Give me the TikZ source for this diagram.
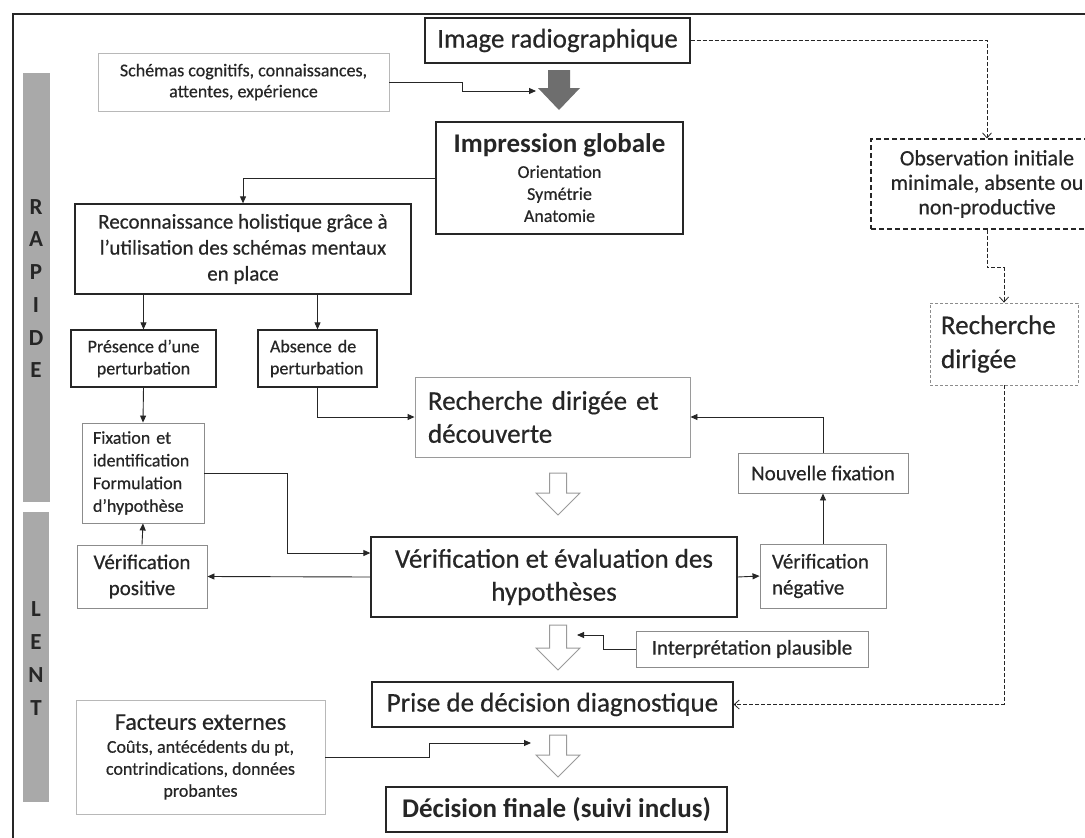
\documentclass[tikz,border=0pt]{standalone}
\usepackage{fontspec}
\setmainfont{Carlito}[UprightFeatures={FakeBold=0.5}]
\usetikzlibrary{arrows.meta,calc}
\definecolor{ink}{HTML}{262626}
\definecolor{lgray}{HTML}{B8B8B8}
\definecolor{mgray}{HTML}{8C8C8C}
\definecolor{bargray}{HTML}{A9A9A9}
\definecolor{darr}{HTML}{6E6E6E}
\definecolor{oagray}{HTML}{9A9A9A}
\tikzset{
  bx/.style={draw=ink, line width=1.3pt, inner sep=0pt, align=center, text=ink},
  gbx/.style={draw=#1, line width=0.9pt, inner sep=0pt, align=center, text=ink},
  conn/.style={draw=ink, line width=0.9pt, -{Triangle[length=7pt,width=6pt]}},
  dconn/.style={draw=ink, line width=0.8pt, dash pattern=on 4pt off 2pt, -{Straight Barb[length=5pt,width=9pt]}},
  openarr/.style={draw=oagray, fill=white, line width=1pt, line join=miter},
  letters/.style={align=center, text=ink, inner sep=0pt, font=\fontsize{23}{32.7}\selectfont\bfseries},
}
\begin{document}
\begin{tikzpicture}[x=1pt,y=-1pt]
\useasboundingbox (0,0) rectangle (1085,838);
\clip (0,0) rectangle (1085,838);
\fill[white] (0,0) rectangle (1085,838);
% frame
\draw[ink, line width=1.2pt] (13,838) -- (13,14) -- (1085,14);
% side bars
\fill[bargray] (23,73) rectangle (50,502);
\fill[bargray] (23,512) rectangle (49,802);
\node[letters] (rapide) at (36,288.5) {R\\A\\P\\I\\D\\E};
\node[letters] (lent) at (36,658.5) {L\\E\\N\\T};

% nodes
\node[bx, minimum width=265pt, minimum height=45pt, font=\fontsize{27}{32}\selectfont] (img) at (557.5,40.5) {Image radiographique};
\node[gbx=lgray, minimum width=291pt, minimum height=58pt, font=\fontsize{18}{21}\selectfont] (schemas) at (243.5,82) {Schémas cognitifs, connaissances,\\attentes, expérience};
\node[bx, minimum width=247pt, minimum height=112pt, font=\fontsize{18}{22}\selectfont] (impr) at (559.5,178) {{\fontsize{27}{27}\selectfont\bfseries Impression globale}\\[3pt]Orientation\\Symétrie\\Anatomie};
\node[bx, minimum width=336pt, minimum height=90pt, font=\fontsize{21}{26}\selectfont] (recon) at (243,249) {Reconnaissance holistique grâce à\\l’utilisation des schémas mentaux\\en place};
\node[bx, minimum width=145pt, minimum height=57pt, font=\fontsize{18}{22}\selectfont] (pres) at (143.5,358.5) {Présence d’une\\perturbation};
\node[bx, minimum width=119pt, minimum height=57pt, inner xsep=12pt, text width=95pt, align=left, font=\fontsize{18}{22}\selectfont] (abs) at (317.5,358.5) {Absence de\\perturbation};
\node[gbx=mgray, minimum width=122pt, minimum height=100pt, inner xsep=11pt, text width=100pt, align=left, font=\fontsize{18}{22.7}\selectfont] (fix) at (143,473) {Fixation et\\identification\\Formulation\\d’hypothèse};
\node[gbx=mgray, minimum width=130pt, minimum height=63pt, font=\fontsize{21}{26}\selectfont] (vpos) at (142,576.5) {Vérification\\positive};
\node[gbx=oagray, minimum width=275pt, minimum height=80pt, inner xsep=13pt, text width=249pt, align=left, font=\fontsize{27}{33}\selectfont] (rech) at (552.5,417) {Recherche dirigée et\\découverte};
\node[bx, minimum width=366pt, minimum height=80pt, font=\fontsize{27}{33}\selectfont] (veval) at (554,577) {Vérification et évaluation des\\hypothèses};
\node[gbx=mgray, minimum width=170pt, minimum height=40pt, font=\fontsize{21}{24}\selectfont] (nouv) at (823,473) {Nouvelle fixation};
\node[gbx=mgray, minimum width=126pt, minimum height=64pt, inner xsep=12pt, text width=102pt, align=left, font=\fontsize{21}{26}\selectfont] (vneg) at (823,576) {Vérification\\négative};
\node[gbx=mgray, minimum width=232pt, minimum height=36pt, font=\fontsize{21}{24}\selectfont] (interp) at (752,649) {Interprétation plausible};
\node[bx, minimum width=361pt, minimum height=45pt, font=\fontsize{27}{32}\selectfont] (prise) at (552.5,704.5) {Prise de décision diagnostique};
\node[gbx=lgray, minimum width=249pt, minimum height=114pt, font=\fontsize{18}{22}\selectfont] (fact) at (200.5,757) {{\fontsize{24}{24}\selectfont Facteurs externes}\\[1pt]Coûts, antécédents du pt,\\contrindications, données\\probantes};
\node[bx, minimum width=341pt, minimum height=45pt, font=\fontsize{27}{32}\selectfont\bfseries] (final) at (556.5,809.5) {Décision finale (suivi inclus)};
\node[draw=ink, line width=1.1pt, dash pattern=on 5pt off 3pt, inner sep=0pt, align=center, text=ink, minimum width=232pt, minimum height=90pt, font=\fontsize{22}{24.5}\selectfont] (obs) at (987,184) {Observation initiale\\minimale, absente ou\\non-productive};
\node[draw=mgray, line width=0.8pt, dash pattern=on 3pt off 2pt, inner sep=0pt, inner xsep=11pt, text width=126pt, align=left, text=ink, minimum width=148pt, minimum height=82pt, font=\fontsize{27}{34}\selectfont] (rdir) at (1004,344) {Recherche\\dirigée};

% dark block arrow
\fill[darr] (548,70) -- (570,70) -- (570,88) -- (580,88) -- (559,110) -- (538,88) -- (548,88) -- cycle;
\coordinate (da) at (536,91);
% open block arrows
\draw[openarr] (549.5,473) -- (566.5,473) -- (566.5,493) -- (580,493) -- (558,515) -- (536,493) -- (549.5,493) -- cycle;
\draw[openarr] (549.5,625) -- (566.5,625) -- (566.5,648) -- (580,648) -- (558,670) -- (536,648) -- (549.5,648) -- cycle;
\draw[openarr] (549.5,735) -- (566.5,735) -- (566.5,755) -- (580,755) -- (558,777) -- (536,755) -- (549.5,755) -- cycle;
\coordinate (oa2) at (577,635);
\coordinate (oa3) at (531,743);

% connectors
\draw[conn] (schemas.east) -- ++(73,0) |- (da);
\draw[conn] (impr.west) -| (recon.north);
\draw[conn] (recon.south -| pres.north) -- (pres.north);
\draw[conn] (recon.south -| abs.north) -- (abs.north);
\draw[conn] (pres.south) -- (fix.north);
\draw[conn] (abs.south) |- (rech.west);
\draw[conn] (fix.east) -- ++(83,0) |- ([yshift=24pt]veval.west);
\draw[conn] (veval.west) -- (vpos.east);
\draw[conn] (vpos.north) -- (fix.south);
\draw[conn] (veval.east) -- (vneg.west);
\draw[conn] (vneg.north) -- (nouv.south);
\draw[conn] (nouv.north) |- (rech.east);
\draw[conn] (interp.west) -- ++(-32,0) |- (oa2);
\draw[conn] (fact.east) -- ++(104,0) |- (oa3);
% dashed connectors
\draw[dconn] (img.east) -| (obs.north);
\draw[dconn] (obs.south) -- ++(0,38) -| (rdir.north);
\draw[dconn] (rdir.south) |- (prise.east);
\end{tikzpicture}
\end{document}
